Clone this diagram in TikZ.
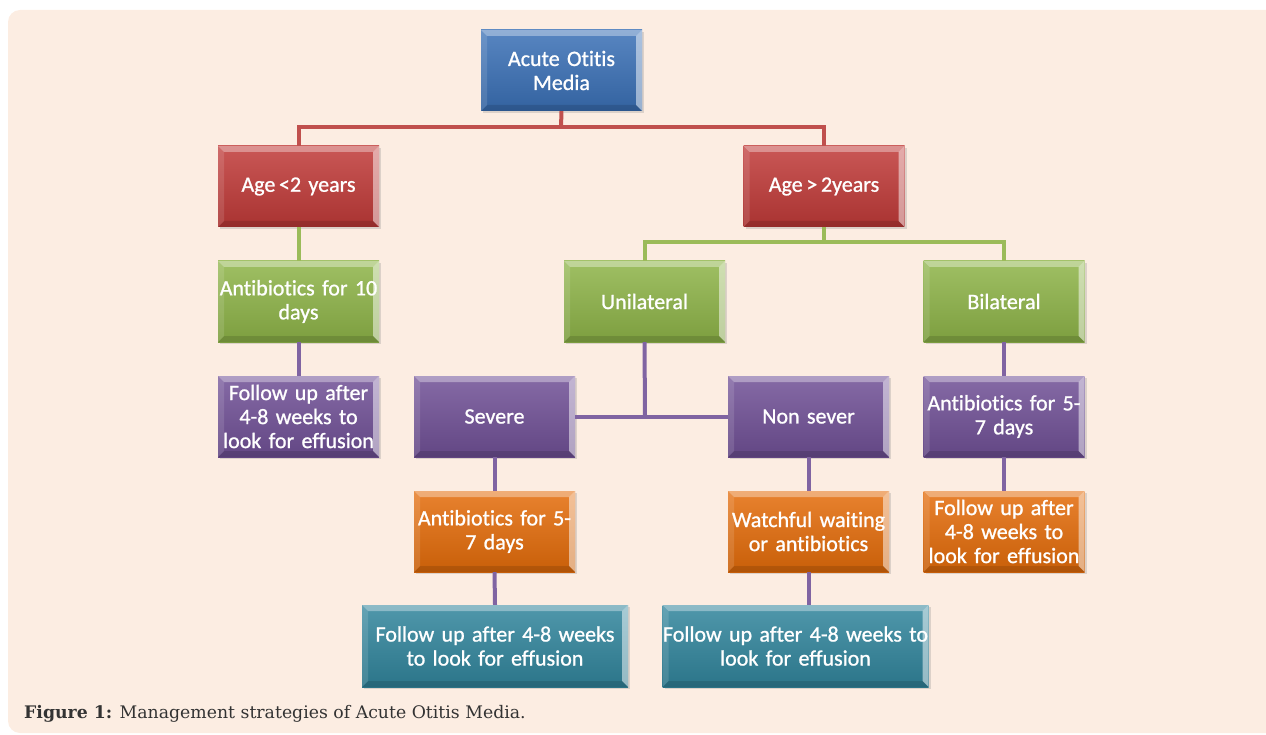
\documentclass[tikz,border=0pt]{standalone}
\usepackage{fontspec}
\setmainfont{Carlito}[Ligatures=NoCommon, FakeBold=1.0]
\newfontfamily\capfont{DejaVu Serif}
\usetikzlibrary{shadows}
\definecolor{bgpeach}{RGB}{252,237,226}
\definecolor{cblue}{RGB}{58,112,182}
\definecolor{cred}{RGB}{192,58,56}
\definecolor{cgreen}{RGB}{142,180,72}
\definecolor{cpurple}{RGB}{112,80,150}
\definecolor{corange}{RGB}{228,108,10}
\definecolor{cteal}{RGB}{49,133,156}
\definecolor{lred}{RGB}{192,80,77}
\definecolor{lgreen}{RGB}{155,187,89}
\definecolor{lpurple}{RGB}{128,100,162}
\tikzset{
  bevelbox/.style={
    draw=none, minimum width=161pt, minimum height=81pt, inner sep=0pt,
    text width=161pt, align=center, text=white, font=\fontsize{22}{24}\selectfont,
    top color=#1!85!white, bottom color=#1!88!black,
    drop shadow={opacity=0.25, shadow xshift=2pt, shadow yshift=-2pt},
    path picture={
      \fill[white,opacity=0.35] (path picture bounding box.north west) -- (path picture bounding box.north east)
        -- ([shift={(-6pt,-6pt)}]path picture bounding box.north east) -- ([shift={(6pt,-6pt)}]path picture bounding box.north west) -- cycle;
      \fill[white,opacity=0.5] (path picture bounding box.north east) -- (path picture bounding box.south east)
        -- ([shift={(-6pt,6pt)}]path picture bounding box.south east) -- ([shift={(-6pt,-6pt)}]path picture bounding box.north east) -- cycle;
      \fill[black,opacity=0.12] (path picture bounding box.south west) -- (path picture bounding box.south east)
        -- ([shift={(-6pt,6pt)}]path picture bounding box.south east) -- ([shift={(6pt,6pt)}]path picture bounding box.south west) -- cycle;
      \fill[white,opacity=0.12] (path picture bounding box.north west) -- (path picture bounding box.south west)
        -- ([shift={(6pt,6pt)}]path picture bounding box.south west) -- ([shift={(6pt,-6pt)}]path picture bounding box.north west) -- cycle;
    }},
  widebox/.style={bevelbox=#1, minimum width=266pt, text width=266pt, minimum height=82pt},
  link/.style={draw=#1, line width=4pt, line cap=butt, line join=miter},
}
\begin{document}
\begin{tikzpicture}[x=1pt,y=-1pt]
\useasboundingbox (0,0) rectangle (1266,735);
\fill[bgpeach, rounded corners=12pt] (8,10) rectangle (1290,733);

\coordinate (r0) at (561,127);
\coordinate (g0) at (824,242);
\coordinate (p0) at (645,416);

\node[bevelbox=cblue] (aom) at (561.5,70.5) {Acute Otitis\\Media};
\node[bevelbox=cred] (age2) at (298.5,186.5) {Age\,<2 years};
\node[bevelbox=cred] (agegt) at (824,186.5) {Age\,>\,2years};
\node[bevelbox=cgreen] (ab10) at (298.5,301.5) {\mbox{Antibiotics for 10}\\days};
\node[bevelbox=cgreen] (uni) at (644.5,301.5) {Unilateral};
\node[bevelbox=cgreen] (bil) at (1004,301.5) {Bilateral};
\node[bevelbox=cpurple] (fu1) at (298.5,416.5) {Follow up after\\4-8 weeks to\\\mbox{look for effusion}};
\node[bevelbox=cpurple] (sev) at (494.5,416.5) {Severe};
\node[bevelbox=cpurple] (nsev) at (808.5,416.5) {Non sever};
\node[bevelbox=cpurple] (ab57b) at (1004,416.5) {\mbox{Antibiotics for 5-}\\7 days};
\node[bevelbox=corange] (ab57s) at (494.5,531.5) {\mbox{Antibiotics for 5-}\\7 days};
\node[bevelbox=corange] (watch) at (808.5,531.5) {\mbox{Watchful waiting}\\or antibiotics};
\node[bevelbox=corange] (fu2) at (1004,531.5) {Follow up after\\4-8 weeks to\\\mbox{look for effusion}};
\node[widebox=cteal] (fu3) at (495,646) {Follow up after 4-8 weeks\\to look for effusion};
\node[widebox=cteal] (fu4) at (795.5,646) {\mbox{Follow up after 4-8 weeks to}\\look for effusion};

\draw[link=lred] (aom.south) -- (r0);
\draw[link=lred] (age2.north) |- (r0) -| (agegt.north);
\draw[link=lgreen] (age2.south) -- (ab10.north);
\draw[link=lgreen] (agegt.south) -- (g0);
\draw[link=lgreen] (uni.north) |- (g0) -| (bil.north);
\draw[link=lpurple] (ab10.south) -- (fu1.north);
\draw[link=lpurple] (uni.south) -- (p0);
\draw[link=lpurple] (sev.east) -- (nsev.west);
\draw[link=lpurple] (bil.south) -- (ab57b.north);
\draw[link=lpurple] (ab57b.south) -- (fu2.north);
\draw[link=lpurple] (sev.south) -- (ab57s.north);
\draw[link=lpurple] (nsev.south) -- (watch.north);
\draw[link=lpurple] (ab57s.south) -- (fu3.north);
\draw[link=lpurple] (watch.south) -- (fu4.north-|watch.south);

\node[anchor=base west, inner sep=0pt, text=black!80, font=\capfont\fontsize{17.3}{20}\selectfont] (cap) at (24,718)
  {\textbf{Figure 1:} Management strategies of Acute Otitis Media.};
\end{tikzpicture}
\end{document}
